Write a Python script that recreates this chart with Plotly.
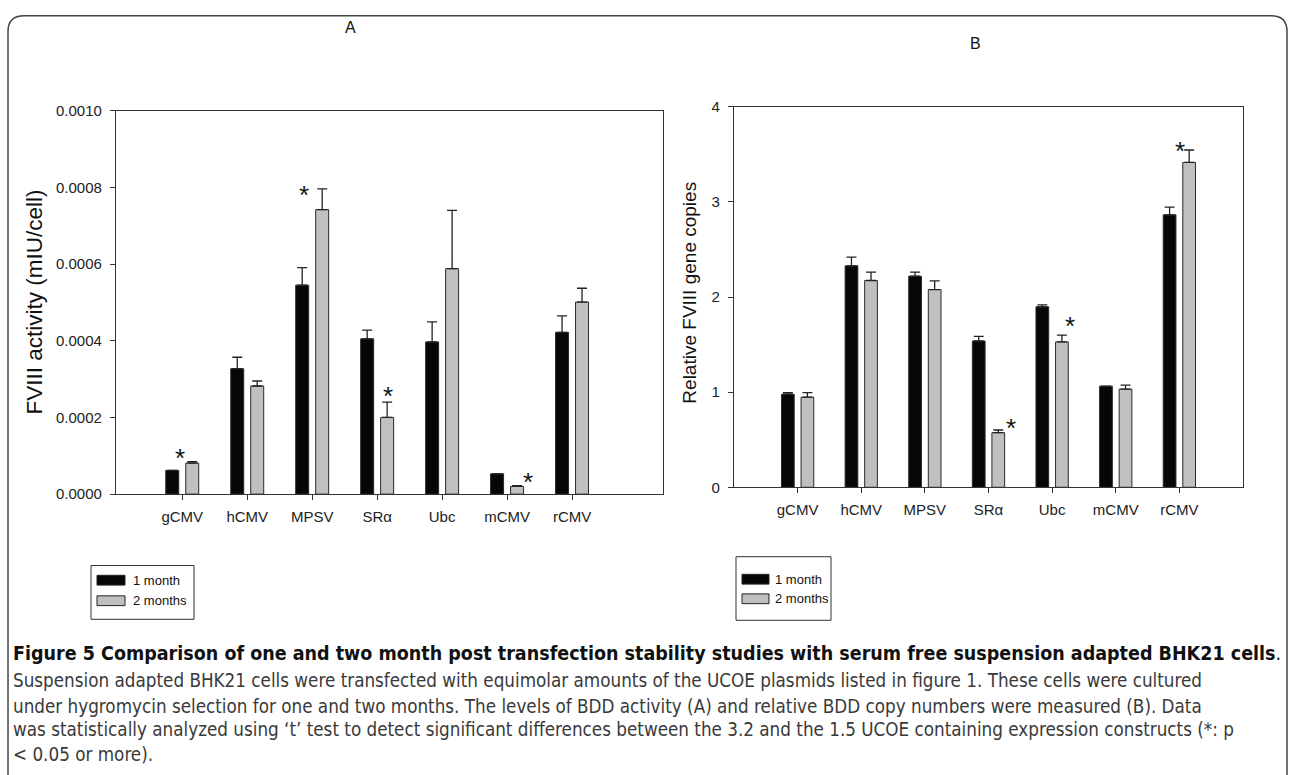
import plotly.graph_objects as go

# ---------------- data ----------------
categories = ["gCMV", "hCMV", "MPSV", "SRα", "Ubc", "mCMV", "rCMV"]

a_month1 = [0.000062, 0.000327, 0.000545, 0.000405, 0.000397, 0.000053, 0.000422]
a_month1_err = [None, 0.000030, 0.000046, 0.000023, 0.000052, None, 0.000043]
a_month2 = [0.000081, 0.000282, 0.000742, 0.000200, 0.000588, 0.000020, 0.000501]
a_month2_err = [0.000004, 0.000013, 0.000054, 0.000040, 0.000152, 0.000002, 0.000036]

b_month1 = [0.977, 2.328, 2.219, 1.538, 1.897, 1.063, 2.864]
b_month1_err = [0.017, 0.092, 0.044, 0.048, 0.021, None, 0.082]
b_month2 = [0.947, 2.174, 2.079, 0.574, 1.528, 1.032, 3.415]
b_month2_err = [0.048, 0.089, 0.092, 0.028, 0.072, 0.042, 0.131]

a_significant = ["gCMV", "MPSV", "SRα", "mCMV"]
b_significant = ["SRα", "Ubc", "rCMV"]

series_names = ["1 month", "2 months"]

# ---------------- styling ----------------
W, H = 1290, 775
FONT = "Liberation Sans, Arial, Helvetica, sans-serif"
CAP_FONT = "Liberation Sans Narrow, DejaVu Sans Condensed, Arial Narrow, sans-serif"
BLACK = "#060606"
GRAY = "#c0c0c0"
EDGE = "#2a2a2a"
SERIES_COLORS = [BLACK, GRAY]


def px_x(p):
    return p / W


def px_y(p):
    return 1 - p / H


# star placement relative to the gray bar (dx in category units, dy in px)
star_style = {
    "a": {"gCMV": (-0.19, 1), "MPSV": (-0.28, -9), "SRα": (0.02, 3), "mCMV": (0.17, 1)},
    "b": {"SRα": (0.2, -1), "Ubc": (0.12, 6), "rCMV": (-0.14, -4)},
}

xs = list(range(len(categories)))

fig = go.Figure()


def add_pair(m1, e1, m2, e2, xa, ya):
    for vals, errs, name, color in [(m1, e1, series_names[0], BLACK),
                                    (m2, e2, series_names[1], GRAY)]:
        fig.add_trace(go.Bar(
            x=xs, y=vals, name=name, xaxis=xa, yaxis=ya,
            marker=dict(color=color, line=dict(color=EDGE, width=1)),
            error_y=dict(type="data", symmetric=False, array=errs,
                         arrayminus=[0] * len(vals), color="#222222",
                         thickness=1.3, width=5),
            showlegend=False,
        ))


add_pair(a_month1, a_month1_err, a_month2, a_month2_err, "x", "y")
add_pair(b_month1, b_month1_err, b_month2, b_month2_err, "x2", "y2")

axis_common = dict(
    showline=True, mirror=True, linecolor="#333333", linewidth=1.3,
    ticks="outside", ticklen=5, tickcolor="#333333", tickwidth=1,
    showgrid=False, zeroline=False,
    tickfont=dict(family=FONT, size=15, color="#222222"),
)

fig.update_layout(
    width=W, height=H,
    margin=dict(l=0, r=0, t=0, b=0),
    paper_bgcolor="white", plot_bgcolor="white",
    barmode="group", bargap=0.385, bargroupgap=0.35,
    xaxis=dict(axis_common, domain=[px_x(116), px_x(663)], range=[-1.02, 7.4],
               tickvals=xs, ticktext=categories, anchor="y", ticklabelstandoff=4),
    yaxis=dict(axis_common, domain=[px_y(496), px_y(104)], range=[0, 0.001],
               dtick=0.0002, tickformat=".4f", anchor="x", ticklabelstandoff=5),
    xaxis2=dict(axis_common, domain=[px_x(734), px_x(1243)], range=[-1, 7],
                tickvals=xs, ticktext=categories, anchor="y2", ticklabelstandoff=4),
    yaxis2=dict(axis_common, domain=[px_y(489), px_y(100)], range=[0, 4],
                dtick=1, anchor="x2", ticklabelstandoff=5),
    showlegend=False,
)

annotations = []
shapes = []

# significance stars
for key, xa, ya, m2, e2 in [("a", "x", "y", a_month2, a_month2_err),
                            ("b", "x2", "y2", b_month2, b_month2_err)]:
    sig = a_significant if key == "a" else b_significant
    for name in sig:
        dx, dy = star_style[key][name]
        i = categories.index(name)
        top = m2[i] + (e2[i] or 0)
        annotations.append(dict(x=i + 0.154 + dx, y=top, xref=xa, yref=ya,
                                text="*", showarrow=False, xanchor="center", yanchor="bottom",
                                yshift=dy - 14,
                                font=dict(family=FONT, size=26, color="#111111")))


def centered(x, y, text, size, angle=0):
    return dict(x=px_x(x), y=px_y(y), xref="paper", yref="paper", text=text,
                showarrow=False, xanchor="center", yanchor="middle", textangle=angle,
                font=dict(family=FONT, size=size, color="#111111"))


# panel letters
annotations.append(centered(350, 19, "A", 16))
annotations.append(centered(975, 35, "B", 16))

# y axis titles
annotations.append(centered(34, 300, "FVIII activity (mIU/cell)", 22.5, -90))
annotations.append(centered(690, 290, "Relative FVIII gene copies", 19, -90))

# legends (box + swatches + real text)
legend_boxes = [
    dict(box=(91, 569, 194, 624), sw_x=(97, 125), rows=(584, 605), text_x=131),
    dict(box=(736, 560, 831, 625), sw_x=(742, 769), rows=(583, 603), text_x=773),
]
for lg in legend_boxes:
    x0, y0, x1, y1 = lg["box"]
    shapes.append(dict(type="rect", xref="paper", yref="paper",
                       x0=px_x(x0), x1=px_x(x1), y0=px_y(y1), y1=px_y(y0),
                       line=dict(color="#333333", width=1), fillcolor="white", layer="below"))
    for name, color, row in zip(series_names, SERIES_COLORS, lg["rows"]):
        shapes.append(dict(type="rect", xref="paper", yref="paper",
                           x0=px_x(lg["sw_x"][0]), x1=px_x(lg["sw_x"][1]),
                           y0=px_y(row + 5), y1=px_y(row - 5),
                           line=dict(color="#222222", width=1), fillcolor=color))
        annotations.append(dict(x=px_x(lg["text_x"]), y=px_y(row), xref="paper", yref="paper",
                                xanchor="left", yanchor="middle", text=name, showarrow=False,
                                font=dict(family=FONT, size=13, color="#111111")))

# caption
caption_lines = [
    "<b>Figure 5 Comparison of one and two month post transfection stability studies with serum free suspension adapted BHK21 cells</b>.",
    "Suspension adapted BHK21 cells were transfected with equimolar amounts of the UCOE plasmids listed in figure 1. These cells were cultured",
    "under hygromycin selection for one and two months. The levels of BDD activity (A) and relative BDD copy numbers were measured (B). Data",
    "was statistically analyzed using ‘t’ test to detect significant differences between the 3.2 and the 1.5 UCOE containing expression constructs (*: p",
    "&lt; 0.05 or more).",
]
caption_y = [659, 687, 713, 737, 762]
for k, (line, yy) in enumerate(zip(caption_lines, caption_y)):
    annotations.append(dict(x=px_x(11), y=px_y(yy), xref="paper", yref="paper",
                            xanchor="left", yanchor="middle", text=line, showarrow=False,
                            font=dict(family=CAP_FONT, size=19.5 if k == 0 else 18.7,
                                      color="#111111" if k == 0 else "#3a3a3a")))

# rounded outer frame
r_x, r_y = 16 / W, 16 / H
L, R, T, B = px_x(8), px_x(1287), px_y(7), -0.05
path = (f"M {L},{B} L {L},{T - r_y} Q {L},{T} {L + r_x},{T} "
        f"L {R - r_x},{T} Q {R},{T} {R},{T - r_y} L {R},{B}")
shapes.append(dict(type="path", path=path, xref="paper", yref="paper",
                   line=dict(color="#444444", width=1.5)))

fig.update_layout(annotations=annotations, shapes=shapes)

fig.write_html("out.html", config={"displayModeBar": False},
               post_script="document.body.style.margin='0';document.body.style.overflow='hidden';")
